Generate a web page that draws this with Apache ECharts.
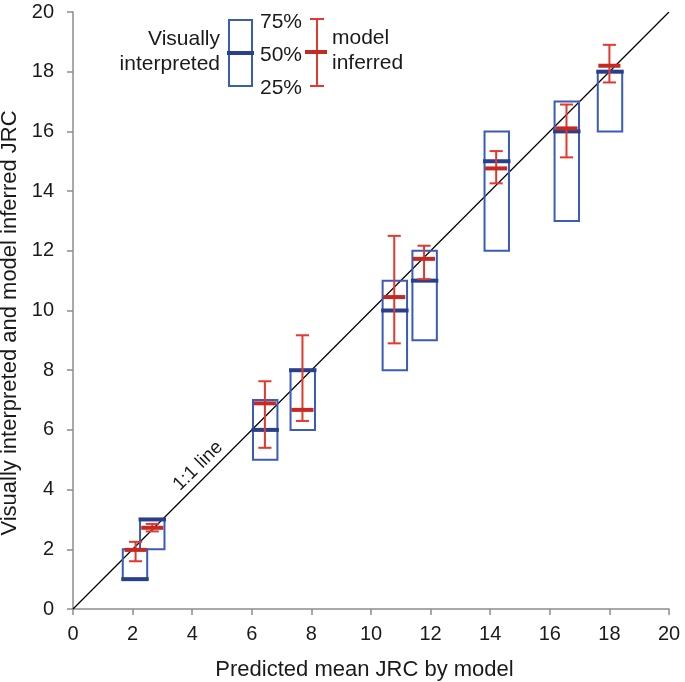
<!DOCTYPE html>
<html><head><meta charset="utf-8">
<script src="https://cdn.jsdelivr.net/npm/echarts@6/dist/echarts.min.js"></script>
<style>html,body{margin:0;padding:0;background:#fff}#c{width:685px;height:682px}</style>
</head><body><div id="c"></div>
<script>
// Predicted mean JRC by model (x position of each group)
const xVisual = [2.08, 2.66, 6.45, 7.71, 10.8, 11.8, 14.22, 16.57, 18.02];
const q1Visual = [1, 2, 5, 6, 8, 9, 12, 13, 16];
const medVisual = [1, 3, 6, 8, 10, 11, 15, 16, 18];
const q3Visual = [2, 3, 7, 8, 11, 12, 16, 17, 18];
const xModel = [2.1, 2.66, 6.44, 7.7, 10.78, 11.78, 14.2, 16.56, 18.0];
const lowModel = [1.6, 2.6, 5.4, 6.3, 8.9, 11.05, 14.26, 15.13, 17.64];
const medModel = [1.98, 2.72, 6.89, 6.67, 10.45, 11.73, 14.76, 16.1, 18.2];
const highModel = [2.25, 2.85, 7.63, 9.17, 12.5, 12.17, 15.34, 16.9, 18.9];
const axisTicks = [0, 2, 4, 6, 8, 10, 12, 14, 16, 18, 20];
const oneToOne = [[0, 0], [20, 20]];

const BLUE = '#3a5cb8', NAVY = '#283f8c', RED = '#e4382c', DRED = '#c42a21';
const FONT = 'Liberation Sans';
const TXT = '#1a1a1a';

const boxData = xVisual.map((x, i) => [x, q1Visual[i], medVisual[i], q3Visual[i]]);
const errData = xModel.map((x, i) => [x, lowModel[i], medModel[i], highModel[i]]);

const chart = echarts.init(document.getElementById('c'));
const axisCommon = {
  type: 'value', min: axisTicks[0], max: axisTicks[axisTicks.length - 1], interval: 2,
  axisLine: {show: true, lineStyle: {color: '#8c8c8c', width: 1.5}},
  axisTick: {show: true, inside: false, length: 6, lineStyle: {color: '#8c8c8c', width: 1.5}},
  splitLine: {show: false},
  axisLabel: {color: TXT, fontSize: 20, fontFamily: FONT},
  nameTextStyle: {color: TXT, fontSize: 22, fontFamily: FONT},
  nameLocation: 'middle'
};
chart.setOption({
  animation: false,
  grid: {left: 73, right: 16, top: 12, bottom: 73, containLabel: false, outerBoundsMode: 'none'},
  xAxis: Object.assign({}, axisCommon, {name: 'Predicted mean JRC by model', nameGap: 50,
    nameTextStyle: Object.assign({}, axisCommon.nameTextStyle, {padding: [0, 13, 0, 0]}),
    axisLabel: Object.assign({}, axisCommon.axisLabel, {margin: 15})}),
  yAxis: Object.assign({}, axisCommon, {name: 'Visually interpreted and model inferred JRC', nameGap: 51,
    nameTextStyle: Object.assign({}, axisCommon.nameTextStyle, {padding: [0, 25, 0, 0]}),
    axisLabel: Object.assign({}, axisCommon.axisLabel, {margin: 19})}),
  series: [
    {type: 'line', data: oneToOne, symbol: 'none', lineStyle: {color: '#000', width: 1.2}, z: 1},
    {type: 'custom', data: boxData, z: 2,
      renderItem: function (params, api) {
        const x = api.value(0), hw = 0.41;
        const tl = api.coord([x - hw, api.value(3)]);
        const br = api.coord([x + hw, api.value(1)]);
        const ml = api.coord([x - hw, api.value(2)]);
        const mr = api.coord([x + hw, api.value(2)]);
        return {type: 'group', children: [
          {type: 'rect', shape: {x: tl[0], y: tl[1], width: br[0] - tl[0], height: br[1] - tl[1]},
            style: {fill: 'none', stroke: BLUE, lineWidth: 2}},
          {type: 'line', shape: {x1: ml[0] - 1.5, y1: ml[1], x2: mr[0] + 1.5, y2: mr[1]},
            style: {stroke: NAVY, lineWidth: 4}}
        ]};
      }},
    {type: 'custom', data: errData, z: 3,
      renderItem: function (params, api) {
        const x = api.value(0), cw = 0.22, mw = 0.37;
        const lo = api.coord([x, api.value(1)]);
        const hi = api.coord([x, api.value(3)]);
        const c1 = api.coord([x - cw, api.value(1)]), c2 = api.coord([x + cw, api.value(1)]);
        const c3 = api.coord([x - cw, api.value(3)]), c4 = api.coord([x + cw, api.value(3)]);
        const m1 = api.coord([x - mw, api.value(2)]), m2 = api.coord([x + mw, api.value(2)]);
        return {type: 'group', children: [
          {type: 'line', shape: {x1: lo[0], y1: lo[1], x2: hi[0], y2: hi[1]}, style: {stroke: RED, lineWidth: 2}},
          {type: 'line', shape: {x1: c1[0], y1: c1[1], x2: c2[0], y2: c2[1]}, style: {stroke: RED, lineWidth: 2}},
          {type: 'line', shape: {x1: c3[0], y1: c3[1], x2: c4[0], y2: c4[1]}, style: {stroke: RED, lineWidth: 2}},
          {type: 'line', shape: {x1: m1[0], y1: m1[1], x2: m2[0], y2: m2[1]}, style: {stroke: DRED, lineWidth: 4}}
        ]};
      }}
  ],
  graphic: [
    {type: 'text', x: 220, y: 39, style: {text: 'Visually', font: '21px "Liberation Sans"', fill: TXT, align: 'right', verticalAlign: 'middle'}},
    {type: 'text', x: 220, y: 64, style: {text: 'interpreted', font: '21px "Liberation Sans"', fill: TXT, align: 'right', verticalAlign: 'middle'}},
    {type: 'rect', shape: {x: 229, y: 20, width: 23, height: 66}, style: {fill: 'none', stroke: BLUE, lineWidth: 2}},
    {type: 'line', shape: {x1: 227, y1: 53, x2: 254, y2: 53}, style: {stroke: NAVY, lineWidth: 4}},
    {type: 'text', x: 260, y: 22, style: {text: '75%', font: '21px "Liberation Sans"', fill: TXT, verticalAlign: 'middle'}},
    {type: 'text', x: 260, y: 55, style: {text: '50%', font: '21px "Liberation Sans"', fill: TXT, verticalAlign: 'middle'}},
    {type: 'text', x: 260, y: 88, style: {text: '25%', font: '21px "Liberation Sans"', fill: TXT, verticalAlign: 'middle'}},
    {type: 'line', shape: {x1: 317, y1: 19, x2: 317, y2: 86}, style: {stroke: RED, lineWidth: 2}},
    {type: 'line', shape: {x1: 310, y1: 19, x2: 324, y2: 19}, style: {stroke: RED, lineWidth: 2}},
    {type: 'line', shape: {x1: 310, y1: 86, x2: 324, y2: 86}, style: {stroke: RED, lineWidth: 2}},
    {type: 'line', shape: {x1: 305, y1: 52, x2: 327, y2: 52}, style: {stroke: DRED, lineWidth: 4}},
    {type: 'text', x: 332, y: 38, style: {text: 'model', font: '21px "Liberation Sans"', fill: TXT, verticalAlign: 'middle'}},
    {type: 'text', x: 332, y: 63, style: {text: 'inferred', font: '21px "Liberation Sans"', fill: TXT, verticalAlign: 'middle'}},
    {type: 'text', x: 198, y: 466, rotation: Math.PI / 4, style: {text: '1:1 line', font: '19px "Liberation Sans"', fill: TXT, align: 'center', verticalAlign: 'middle'}}
  ]
});
</script></body></html>
